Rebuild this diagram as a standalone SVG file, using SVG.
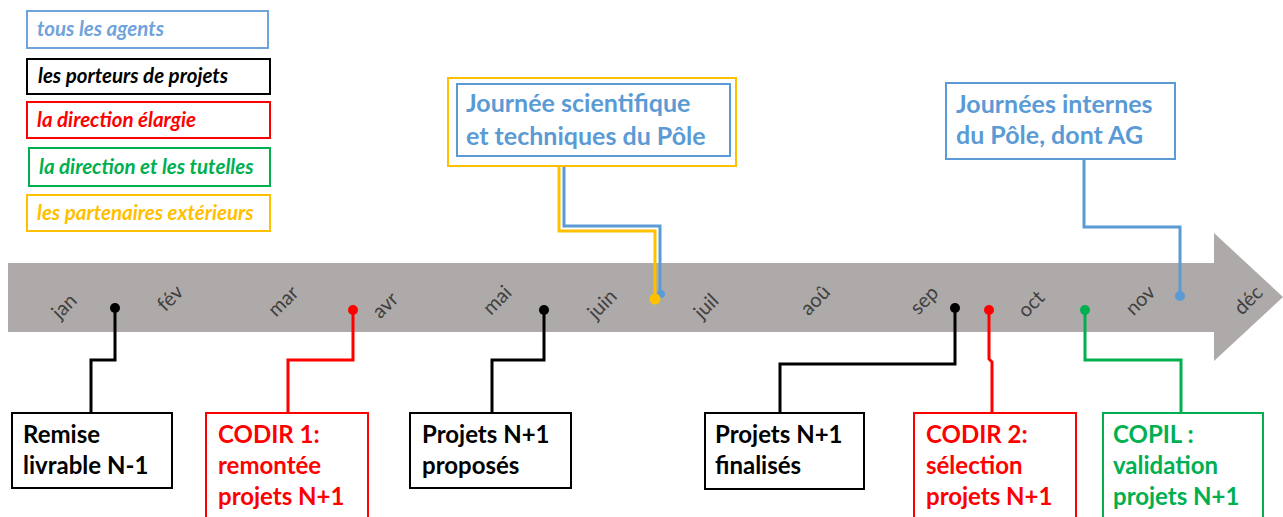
<svg xmlns="http://www.w3.org/2000/svg" width="1283" height="517" viewBox="0 0 1283 517">
<style>
.leg{font-family:Lato,"Open Sans",sans-serif;font-style:italic;font-weight:bold;font-size:20.5px}
.box{font-family:Lato,"Open Sans",sans-serif;font-weight:bold;font-size:24px}
.top{font-size:25px}
.mon{font-family:Lato,"Open Sans",sans-serif;font-size:20px;fill:#404040;text-anchor:middle}
.c{fill:none;stroke-width:3}
rect{fill:#fff;stroke-width:2}
</style>
<rect width="1283" height="517" fill="#fff" stroke="none"/>
<g id="legend">
<rect x="27" y="11" width="241" height="37" stroke="#6fa3dc"/>
<text class="leg" x="37" y="36" fill="#6fa3dc">tous les agents</text>
<rect x="27" y="59" width="243" height="35" stroke="#000"/>
<text class="leg" x="38" y="83" fill="#000">les porteurs de projets</text>
<rect x="27" y="102" width="243" height="36" stroke="#ff0000"/>
<text class="leg" x="37" y="127" fill="#ff0000">la direction élargie</text>
<rect x="29" y="148" width="241" height="38" stroke="#00b050"/>
<text class="leg" x="39" y="174" fill="#00b050">la direction et les tutelles</text>
<rect x="27" y="195" width="243" height="36" stroke="#ffc000"/>
<text class="leg" x="37" y="220" fill="#ffc000">les partenaires extérieurs</text>
</g>
<g id="timeline">
<path d="M8,263 H1214 V233 L1283,297 L1214,361 V332 H8 Z" fill="#aeaaa9"/>
<text class="mon" transform="translate(64,306) rotate(-45)" dy="7">jan</text>
<text class="mon" transform="translate(170,298) rotate(-45)" dy="7">fév</text>
<text class="mon" transform="translate(283,301) rotate(-45)" dy="7">mar</text>
<text class="mon" transform="translate(385,305) rotate(-45)" dy="7">avr</text>
<text class="mon" transform="translate(497,300) rotate(-45)" dy="7">mai</text>
<text class="mon" transform="translate(602,304) rotate(-45)" dy="7">juin</text>
<text class="mon" transform="translate(706,306) rotate(-45)" dy="7">juil</text>
<text class="mon" transform="translate(815,300) rotate(-45)" dy="7">aoû</text>
<text class="mon" transform="translate(924,300) rotate(-45)" dy="7">sep</text>
<text class="mon" transform="translate(1031,304) rotate(-45)" dy="7">oct</text>
<text class="mon" transform="translate(1140,300) rotate(-45)" dy="7">nov</text>
<text class="mon" transform="translate(1248,300) rotate(-45)" dy="7">déc</text>
</g>
<g id="connectors">
<path class="c" stroke="#000" d="M115,308 V360 H91 V412"/>
<circle cx="115" cy="308" r="5" fill="#000"/>
<path class="c" stroke="#ff0000" d="M353,310 V360 H288 V412"/>
<circle cx="353" cy="310" r="5" fill="#ff0000"/>
<path class="c" stroke="#000" d="M544,310 V360 H492 V412"/>
<circle cx="544" cy="310" r="5" fill="#000"/>
<path class="c" stroke="#000" d="M955,308 V364 H780 V412"/>
<circle cx="955" cy="308" r="5" fill="#000"/>
<path class="c" stroke="#ff0000" d="M989,310 V359 L992,362 V412"/>
<circle cx="989" cy="310" r="5" fill="#ff0000"/>
<path class="c" stroke="#00b050" d="M1085,310 V360 H1181 V412"/>
<circle cx="1085" cy="310" r="5" fill="#00b050"/>
<path class="c" stroke="#5b9bd5" d="M660,294 V226 H564 V156"/>
<path class="c" stroke="#ffc000" d="M655,298 V231 H559 V166"/>
<circle cx="661" cy="294" r="4" fill="#5b9bd5"/>
<circle cx="655" cy="299" r="5.5" fill="#ffc000"/>
<path class="c" stroke="#5b9bd5" d="M1180,296 V227 H1084 V159"/>
<circle cx="1180" cy="296" r="5" fill="#5b9bd5"/>
</g>
<g id="n-remise">
<rect x="12" y="413" width="160" height="75" stroke="#000"/>
<text class="box" fill="#000"><tspan x="23" y="443">Remise</tspan><tspan x="23" y="474">livrable N-1</tspan></text>
</g>
<g id="n-codir1">
<rect x="206" y="413" width="162" height="110" stroke="#ff0000"/>
<text class="box" fill="#ff0000"><tspan x="218" y="443">CODIR 1:</tspan><tspan x="218" y="474">remontée</tspan><tspan x="218" y="505">projets N+1</tspan></text>
</g>
<g id="n-proposes">
<rect x="410" y="413" width="161" height="75" stroke="#000"/>
<text class="box" fill="#000"><tspan x="422" y="443">Projets N+1</tspan><tspan x="422" y="474">proposés</tspan></text>
</g>
<g id="n-journee">
<rect x="448" y="78" width="288" height="88" stroke="#ffc000"/>
<rect x="457" y="84" width="273" height="72" stroke="#5b9bd5"/>
<text class="box top" fill="#5b9bd5"><tspan x="466" y="112">Journée scientifique</tspan><tspan x="466" y="145">et techniques du Pôle</tspan></text>
</g>
<g id="n-finalises">
<rect x="705" y="413" width="159" height="76" stroke="#000"/>
<text class="box" fill="#000"><tspan x="715" y="443">Projets N+1</tspan><tspan x="715" y="474">finalisés</tspan></text>
</g>
<g id="n-codir2">
<rect x="914" y="413" width="162" height="110" stroke="#ff0000"/>
<text class="box" fill="#ff0000"><tspan x="926" y="443">CODIR 2:</tspan><tspan x="926" y="474">sélection</tspan><tspan x="926" y="505">projets N+1</tspan></text>
</g>
<g id="n-copil">
<rect x="1103" y="413" width="160" height="110" stroke="#00b050"/>
<text class="box" fill="#00b050"><tspan x="1113" y="443">COPIL :</tspan><tspan x="1113" y="474">validation</tspan><tspan x="1113" y="505">projets N+1</tspan></text>
</g>
<g id="n-internes">
<rect x="946" y="83" width="229" height="76" stroke="#5b9bd5"/>
<text class="box top" fill="#5b9bd5"><tspan x="956" y="113">Journées internes</tspan><tspan x="956" y="144">du Pôle, dont AG</tspan></text>
</g>
</svg>
